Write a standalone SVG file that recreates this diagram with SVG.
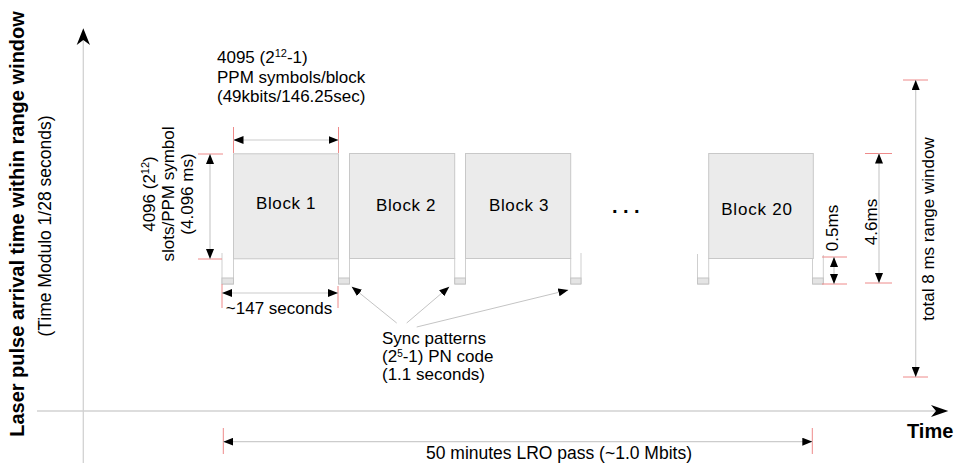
<svg xmlns="http://www.w3.org/2000/svg" width="955" height="466" viewBox="0 0 955 466">
<style>
text{font-family:"Liberation Sans",Arial,sans-serif;fill:#000;font-size:17px}
.bold{font-weight:bold}
.blk{fill:#ebebeb;stroke:#c8c8c8;stroke-width:1}
.col{fill:#fff;stroke:#cfcfcf;stroke-width:1}
.pat{fill:#e4e4e4;stroke:#c4c4c4;stroke-width:1}
.dim{stroke:#cccccc;stroke-width:1.2;fill:none;marker-start:url(#tri);marker-end:url(#tri)}
.ptr{stroke:#c4c4c4;stroke-width:1;fill:none;marker-end:url(#tri)}
.tick{stroke:#ee8a8a;stroke-width:1;fill:none}
.axis{stroke:#d2d2d2;stroke-width:1.3;fill:none}
.head{fill:#000}
.mid{text-anchor:middle}
</style>
<defs>
<marker id="tri" viewBox="0 0 10 8" refX="10" refY="4" markerWidth="10" markerHeight="8" markerUnits="userSpaceOnUse" orient="auto-start-reverse">
<path d="M0,0 L10,4 L0,8 z" fill="#000"/>
</marker>
</defs>
<rect width="955" height="466" fill="#fff"/>

<g id="axes">
<line class="axis" x1="83.3" y1="463" x2="83.3" y2="36"/>
<path class="head" d="M83.3,28.3 L90,45 L83.3,40 L76.7,45 z"/>
<line class="axis" x1="37" y1="411" x2="940" y2="411"/>
<path class="head" d="M948.3,411 L931,417 L936,411 L931,405 z"/>
<text class="bold" style="font-size:20px" x="907" y="438">Time</text>
<text class="bold mid" style="font-size:20px" transform="translate(24,224) rotate(-90)">Laser pulse arrival time within range window</text>
<text class="mid" style="font-size:17.5px" transform="translate(51,226) rotate(-90)">(Time Modulo 1/28 seconds)</text>
</g>

<g id="sync-columns">
<path class="col" d="M222,253 V284 H233.5 V258"/>
<rect class="pat" x="222" y="278" width="11.5" height="6"/>
<path class="col" d="M338.5,258 V284 H349.5 V258"/>
<rect class="pat" x="338.5" y="278" width="11" height="6"/>
<path class="col" d="M454.7,258 V284 H465.5 V258"/>
<rect class="pat" x="454.7" y="278" width="10.8" height="6"/>
<path class="col" d="M570.7,258 V284 H581 V253"/>
<rect class="pat" x="570.7" y="278" width="10.3" height="6"/>
<path class="col" d="M697.5,254 V284 H708.7 V258"/>
<rect class="pat" x="697.5" y="278" width="11.2" height="6"/>
<path class="col" d="M812.5,258 V284 H823.3 V255"/>
<rect class="pat" x="812.5" y="278" width="10.8" height="6"/>
</g>

<g id="block1">
<rect class="blk" x="233.5" y="153.8" width="105" height="105"/>
<text class="mid" style="letter-spacing:0.6px" x="286" y="208.5">Block 1</text>
</g>
<g id="block2">
<rect class="blk" x="349.5" y="153.5" width="105.2" height="105"/>
<text class="mid" style="letter-spacing:0.6px" x="406" y="210.7">Block 2</text>
</g>
<g id="block3">
<rect class="blk" x="465.5" y="153.5" width="105.2" height="105"/>
<text class="mid" style="letter-spacing:0.6px" x="519" y="210.7">Block 3</text>
</g>
<g id="ellipsis">
<text class="bold" style="font-size:20px;letter-spacing:5.4px" x="612" y="213">...</text>
</g>
<g id="block20">
<rect class="blk" x="708.7" y="153.5" width="104.6" height="105"/>
<text class="mid" style="letter-spacing:0.8px" x="757" y="215">Block 20</text>
</g>

<g id="labels">
<text x="217" y="63">4095 (2<tspan style="font-size:11px" dy="-6">12</tspan><tspan dy="6">-1)</tspan></text>
<text x="217" y="83">PPM symbols/block</text>
<text x="217" y="102">(49kbits/146.25sec)</text>
<text class="mid" transform="translate(155,194) rotate(-90)">4096 (2<tspan style="font-size:11px" dy="-6">12</tspan><tspan dy="6">)</tspan></text>
<text class="mid" transform="translate(174,194) rotate(-90)">slots/PPM symbol</text>
<text class="mid" transform="translate(193,194) rotate(-90)">(4.096 ms)</text>
<text class="mid" x="279" y="314">~147 seconds</text>
<text x="382" y="344">Sync patterns</text>
<text x="382" y="362">(2<tspan style="font-size:10px" dy="-5">5</tspan><tspan dy="5">-1) PN code</tspan></text>
<text x="382" y="380">(1.1 seconds)</text>
<text class="mid" transform="translate(838,228) rotate(-90)">0.5ms</text>
<text class="mid" transform="translate(877,222) rotate(-90)">4.6ms</text>
<text class="mid" transform="translate(933.5,229) rotate(-90)">total 8 ms range window</text>
<text class="mid" style="font-size:17.5px" x="559" y="459">50 minutes LRO pass (~1.0 Mbits)</text>
</g>

<g id="connectors">
<line class="tick" x1="233.5" y1="127" x2="233.5" y2="153"/>
<line class="tick" x1="338.5" y1="127" x2="338.5" y2="153"/>
<line class="dim" x1="233.5" y1="140" x2="338.5" y2="140"/>

<line class="tick" x1="198" y1="154" x2="223" y2="154"/>
<line class="tick" x1="198" y1="259" x2="222" y2="259"/>
<line class="dim" x1="210" y1="154" x2="210" y2="259"/>

<line class="tick" x1="222" y1="284" x2="222" y2="308"/>
<line class="tick" x1="338" y1="286" x2="338" y2="308"/>
<line class="dim" x1="222" y1="293" x2="338" y2="293"/>

<line class="tick" x1="822" y1="257" x2="847" y2="257"/>
<line class="tick" x1="822" y1="284" x2="847" y2="284"/>
<line class="dim" x1="834" y1="257" x2="834" y2="284"/>

<line class="tick" x1="865" y1="153.5" x2="892" y2="153.5"/>
<line class="tick" x1="865" y1="283" x2="892" y2="283"/>
<line class="dim" x1="879" y1="153.5" x2="879" y2="283"/>

<line class="tick" x1="903" y1="80" x2="928" y2="80"/>
<line class="tick" x1="903" y1="377" x2="928" y2="377"/>
<line class="dim" x1="915.7" y1="80" x2="915.7" y2="377"/>

<line class="tick" x1="223.3" y1="428" x2="223.3" y2="454"/>
<line class="tick" x1="812.3" y1="428" x2="812.3" y2="454"/>
<line class="dim" x1="223.3" y1="441.7" x2="812.3" y2="441.7"/>

<line class="ptr" x1="396.7" y1="323" x2="351.7" y2="286.7"/>
<line class="ptr" x1="406.7" y1="323" x2="449.3" y2="286.7"/>
<line class="ptr" x1="416.7" y1="327" x2="568.3" y2="290"/>
</g>
</svg>
